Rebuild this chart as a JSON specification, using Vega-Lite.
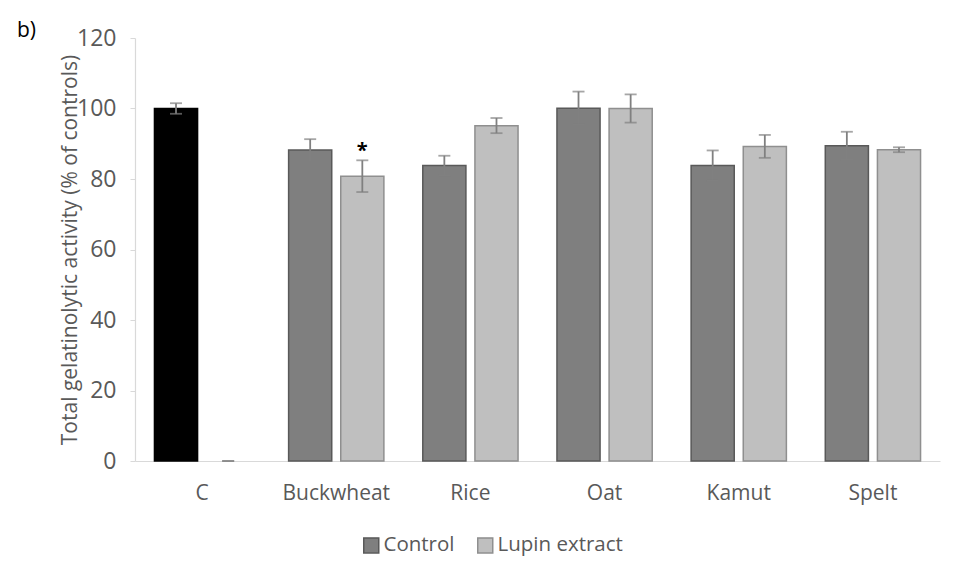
{
  "$schema": "https://vega.github.io/schema/vega-lite/v6.json",
  "width": 805,
  "height": 423,
  "autosize": {"type": "none"},
  "padding": {"left": 135, "top": 38, "right": 15, "bottom": 117},
  "background": "white",
  "title": {"text": "b)", "anchor": "start", "frame": "group", "dx": -118, "dy": 16, "offset": 2, "fontSize": 21, "font": "Open Sans", "fontWeight": "normal", "color": "#000000"},
  "config": {"view": {"stroke": null}, "font": "Open Sans"},
  "data": {"values": [
    {"cat": "C", "group": "Control", "value": 100, "lo": 98.5, "hi": 101.5, "sig": ""},
    {"cat": "C", "group": "Lupin extract", "value": 0, "lo": 0, "hi": 0, "sig": ""},
    {"cat": "Buckwheat", "group": "Control", "value": 88.2, "lo": 85.1, "hi": 91.3, "sig": ""},
    {"cat": "Buckwheat", "group": "Lupin extract", "value": 80.8, "lo": 76.3, "hi": 85.3, "sig": "*"},
    {"cat": "Rice", "group": "Control", "value": 83.8, "lo": 81.0, "hi": 86.6, "sig": ""},
    {"cat": "Rice", "group": "Lupin extract", "value": 95.1, "lo": 93.0, "hi": 97.3, "sig": ""},
    {"cat": "Oat", "group": "Control", "value": 100.1, "lo": 95.4, "hi": 104.8, "sig": ""},
    {"cat": "Oat", "group": "Lupin extract", "value": 100.0, "lo": 96.0, "hi": 104.0, "sig": ""},
    {"cat": "Kamut", "group": "Control", "value": 83.8, "lo": 79.5, "hi": 88.1, "sig": ""},
    {"cat": "Kamut", "group": "Lupin extract", "value": 89.2, "lo": 86.0, "hi": 92.5, "sig": ""},
    {"cat": "Spelt", "group": "Control", "value": 89.4, "lo": 85.4, "hi": 93.4, "sig": ""},
    {"cat": "Spelt", "group": "Lupin extract", "value": 88.3, "lo": 87.6, "hi": 89.0, "sig": ""}
  ]},
  "encoding": {
    "x": {
      "field": "cat", "type": "nominal",
      "sort": ["C", "Buckwheat", "Rice", "Oat", "Kamut", "Spelt"],
      "scale": {"paddingInner": 0.29, "paddingOuter": 0.145},
      "axis": {"title": null, "labelAngle": 0, "ticks": false, "domainColor": "#d9d9d9", "domainWidth": 1.2, "labelColor": "#595959", "labelFontSize": 21, "labelPadding": 21, "labelFont": "Open Sans"}
    },
    "xOffset": {"field": "group", "type": "nominal", "sort": ["Control", "Lupin extract"], "scale": {"paddingInner": 0.173}}
  },
  "layer": [
    {
      "transform": [{"filter": "datum.value > 0"}],
      "mark": {"type": "bar", "strokeWidth": 1.5},
      "encoding": {
        "y": {
          "field": "value", "type": "quantitative",
          "scale": {"domain": [0, 120], "nice": false},
          "axis": {"title": "Total gelatinolytic activity (% of controls)", "values": [0, 20, 40, 60, 80, 100, 120], "grid": false, "domainColor": "#d9d9d9", "domainWidth": 1.2, "tickColor": "#d9d9d9", "tickSize": 5, "labelColor": "#595959", "labelFontSize": 23, "labelPadding": 14, "labelFont": "Open Sans", "titleColor": "#595959", "titleFontSize": 21, "titleFontWeight": "normal", "titleFont": "Open Sans", "titlePadding": -4}
        },
        "fill": {
          "condition": {"test": "datum.cat === 'C'", "value": "#000000"},
          "field": "group", "type": "nominal",
          "scale": {"domain": ["Control", "Lupin extract"], "range": ["#7f7f7f", "#bfbfbf"]},
          "legend": {"title": null, "orient": "none", "legendX": 226, "legendY": 497, "direction": "horizontal", "symbolType": "square", "symbolSize": 225, "symbolStrokeWidth": 1.5, "labelFontSize": 20.5, "labelColor": "#595959", "labelFont": "Open Sans", "columnPadding": 19, "labelOffset": 2}
        },
        "stroke": {
          "condition": {"test": "datum.cat === 'C'", "value": "#000000"},
          "field": "group", "type": "nominal",
          "scale": {"domain": ["Control", "Lupin extract"], "range": ["#595959", "#8f8f8f"]},
          "legend": {"title": null, "orient": "none", "legendX": 226, "legendY": 497, "direction": "horizontal", "symbolType": "square", "symbolSize": 225, "symbolStrokeWidth": 1.5, "labelFontSize": 20.5, "labelColor": "#595959", "labelFont": "Open Sans", "columnPadding": 19, "labelOffset": 2}
        }
      }
    },
    {
      "mark": {"type": "rule", "color": "#808080", "strokeWidth": 1.8},
      "encoding": {
        "y": {"field": "lo", "type": "quantitative"},
        "y2": {"field": "hi"}
      }
    },
    {
      "mark": {"type": "tick", "color": "#808080", "thickness": 1.8, "size": 12},
      "encoding": {"y": {"field": "lo", "type": "quantitative"}}
    },
    {
      "mark": {"type": "tick", "color": "#808080", "thickness": 1.8, "size": 12},
      "encoding": {"y": {"field": "hi", "type": "quantitative"}}
    },
    {
      "mark": {"type": "text", "fontSize": 20, "font": "Open Sans", "fontWeight": "bold", "color": "#000000", "baseline": "alphabetic", "dy": -3},
      "encoding": {
        "y": {"field": "hi", "type": "quantitative"},
        "text": {"field": "sig"}
      }
    }
  ]
}
